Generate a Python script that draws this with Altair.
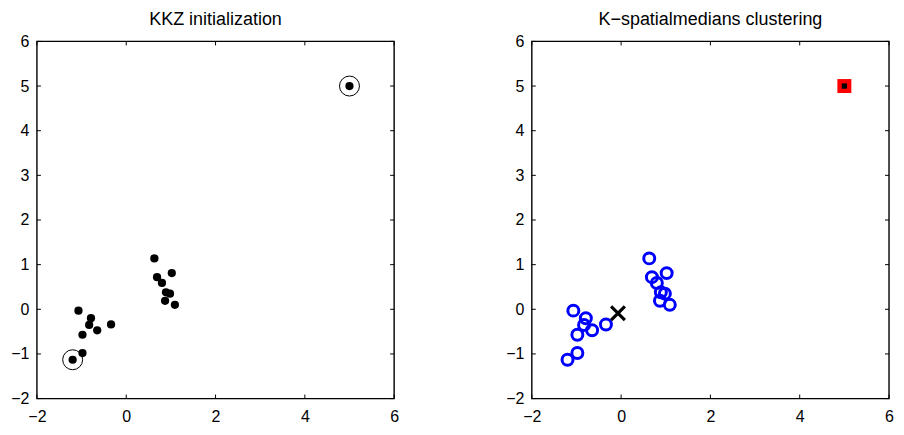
import altair as alt
import pandas as pd

# ---- data ----
xs = [-1.07, -0.79, -0.83, -0.65, -0.34, -0.98, -0.98, -1.20,
      0.63, 0.69, 0.80, 1.02, 0.89, 0.98, 0.87, 1.09, 5.0]
ys = [-0.03, -0.20, -0.35, -0.47, -0.34, -0.57, -0.98, -1.13,
      1.14, 0.72, 0.59, 0.81, 0.38, 0.35, 0.19, 0.10, 5.0]
cluster = [1] * 16 + [2]

init_x = [-1.20, 5.0]
init_y = [-1.13, 5.0]

center1_x = [-0.07]
center1_y = [-0.09]
center2_x = [5.0]
center2_y = [5.0]

x_ticks = [-2, 0, 2, 4, 6]
y_ticks = [-2, -1, 0, 1, 2, 3, 4, 5, 6]

titles = ["KKZ initialization", "K\u2212spatialmedians clustering"]

W = 358
H = 358
FONT = "Liberation Sans"
LBL = 16

pts = pd.DataFrame({"x": xs, "y": ys, "cluster": cluster})
init = pd.DataFrame({"x": init_x, "y": init_y})
c1 = pd.DataFrame({"x": center1_x, "y": center1_y})
c2 = pd.DataFrame({"x": center2_x, "y": center2_y})
xt = pd.DataFrame({"v": x_ticks})
yt = pd.DataFrame({"v": y_ticks})
frame = pd.DataFrame({"f": [0]})

xscale = alt.Scale(domain=[-2, 6], nice=False, zero=False)
yscale = alt.Scale(domain=[-2, 6], nice=False, zero=False)

LEXPR = "datum.value < 0 ? '\u2212' + abs(datum.value) : '' + datum.value"

xaxis = alt.Axis(values=x_ticks, ticks=False, domain=False, grid=False, title=None,
                 labelFont=FONT, labelFontSize=LBL, labelColor="black", labelPadding=10,
                 labelExpr=LEXPR, labelFlush=False)
yaxis = alt.Axis(values=y_ticks, ticks=False, domain=False, grid=False, title=None,
                 labelFont=FONT, labelFontSize=LBL, labelColor="black", labelPadding=8,
                 labelExpr=LEXPR, labelBaseline="middle")

def tick_layers():
    tx = alt.X("v:Q", scale=xscale, axis=xaxis)
    ty = alt.Y("v:Q", scale=yscale, axis=yaxis)
    bottom = alt.Chart(xt).mark_rule(color="black", strokeWidth=1).encode(
        x=tx, y=alt.value(H), y2=alt.value(H - 4))
    top = alt.Chart(xt).mark_rule(color="black", strokeWidth=1).encode(
        x=tx, y=alt.value(0), y2=alt.value(4))
    left = alt.Chart(yt).mark_rule(color="black", strokeWidth=1).encode(
        y=ty, x=alt.value(0), x2=alt.value(4))
    right = alt.Chart(yt).mark_rule(color="black", strokeWidth=1).encode(
        y=ty, x=alt.value(W), x2=alt.value(W - 4))
    box = alt.Chart(frame).mark_rect(fill="transparent", stroke="black", strokeWidth=1.4).encode(
        x=alt.value(0), x2=alt.value(W), y=alt.value(0), y2=alt.value(H))
    return [box, bottom, top, left, right]

X = lambda: alt.X("x:Q", scale=xscale, axis=xaxis)
Y = lambda: alt.Y("y:Q", scale=yscale, axis=yaxis)

title_props = dict(fontSize=18, font=FONT, fontWeight="normal", color="black", offset=4)

# ---- left panel ----
dots = alt.Chart(pts).mark_point(shape="circle", filled=True, color="black", size=68, opacity=1).encode(
    x=X(), y=Y())
rings = alt.Chart(init).mark_point(shape="circle", filled=False, color="black", size=400,
                                   strokeWidth=1, opacity=1).encode(x=X(), y=Y())
left_panel = alt.layer(*tick_layers(), dots, rings).properties(
    width=W, height=H, title=alt.TitleParams(titles[0], **title_props))

# ---- right panel ----
blue = alt.Chart(pts[pts.cluster == 1]).mark_point(shape="circle", filled=False, color="#0000ff",
                                                   size=121, strokeWidth=3, opacity=1).encode(x=X(), y=Y())
xmark = alt.Chart(c1).mark_point(shape="M-1,-1L1,1M-1,1L1,-1", filled=False, color="black",
                                 size=190, strokeWidth=3.2, opacity=1).encode(x=X(), y=Y())
red = alt.Chart(pts[pts.cluster == 2]).mark_point(shape="square", filled=True, color="#ff0000",
                                                  size=196, opacity=1).encode(x=X(), y=Y())
redc = alt.Chart(c2).mark_point(shape="square", filled=True, color="black",
                                size=28, opacity=1).encode(x=X(), y=Y())
right_panel = alt.layer(*tick_layers(), blue, xmark, red, redc).properties(
    width=W, height=H, title=alt.TitleParams(titles[1], **title_props))

chart = alt.hconcat(left_panel, right_panel, spacing=106).properties(
    padding={"left": 2, "top": 3, "right": 2, "bottom": 0},
    background="white",
).configure_view(stroke=None)

chart.save("out.html", embed_options={"renderer": "svg", "actions": False})
